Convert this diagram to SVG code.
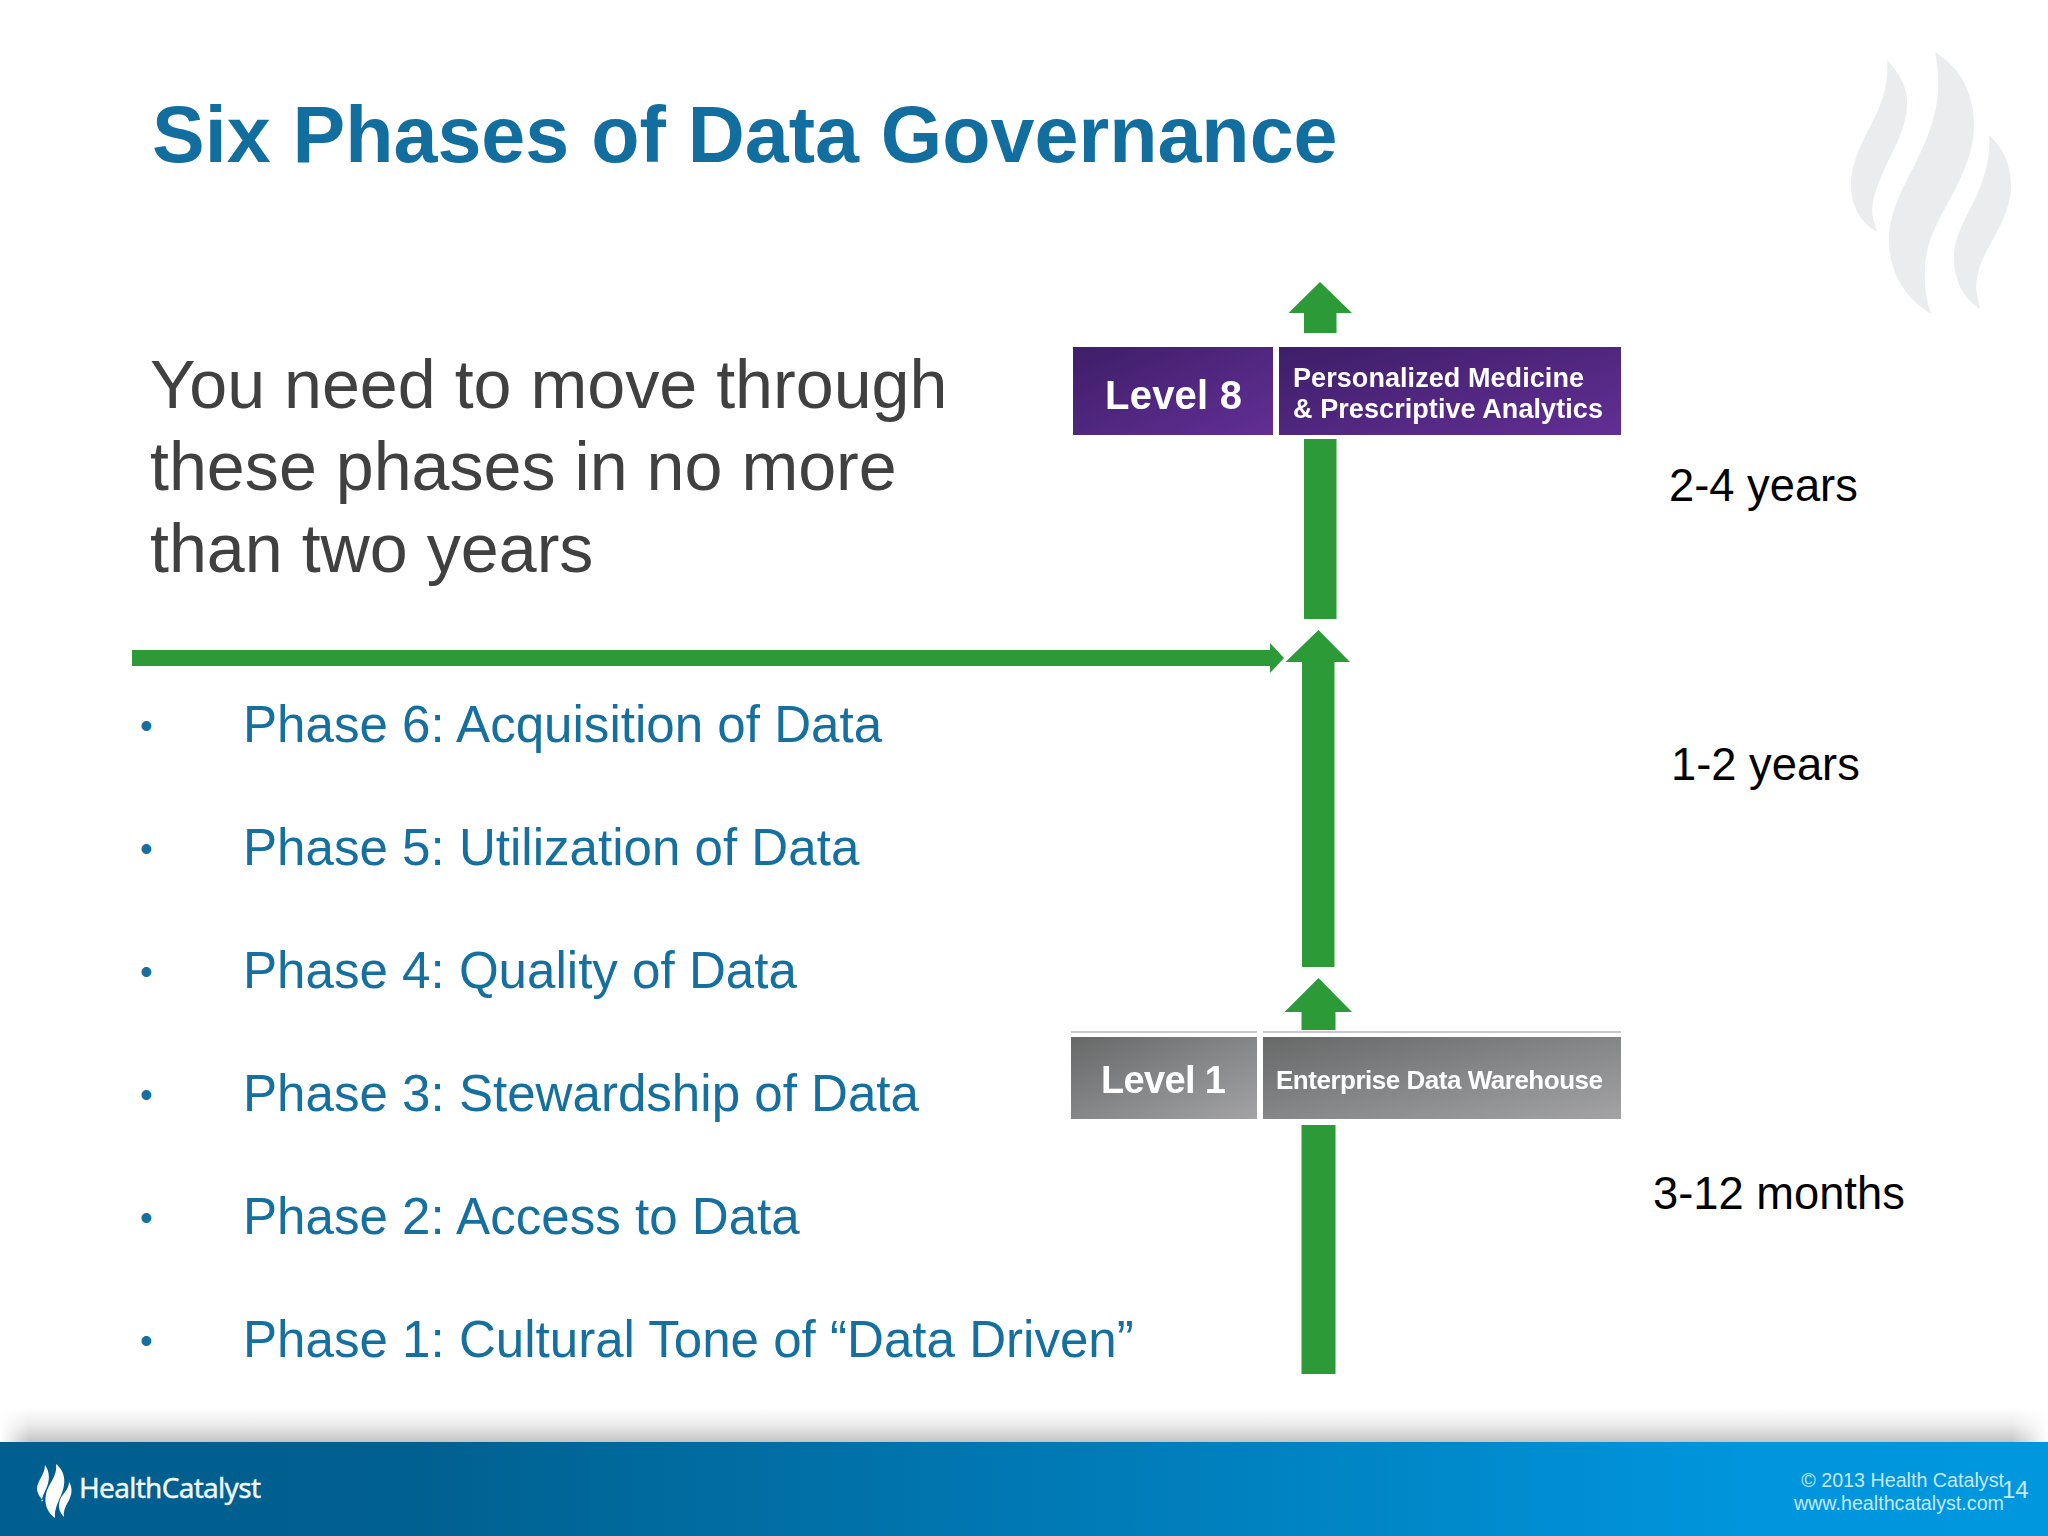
<svg xmlns="http://www.w3.org/2000/svg" width="2048" height="1536" viewBox="0 0 2048 1536">
<defs>
<linearGradient id="footer" x1="0" x2="1" y1="0" y2="0"><stop offset="0" stop-color="#005F8E"/><stop offset="0.2" stop-color="#006090"/><stop offset="0.85" stop-color="#0095DC"/><stop offset="1" stop-color="#0097DF"/></linearGradient>
<linearGradient id="shadow" x1="0" x2="0" y1="0" y2="1"><stop offset="0" stop-color="#c4c4c4" stop-opacity="0"/><stop offset="0.5" stop-color="#c4c4c4" stop-opacity="0.35"/><stop offset="1" stop-color="#c4c4c4"/></linearGradient>
<linearGradient id="fadeL" x1="0" x2="1" y1="0" y2="0"><stop offset="0" stop-color="#fff"/><stop offset="1" stop-color="#fff" stop-opacity="0"/></linearGradient>
<linearGradient id="fadeR" x1="1" x2="0" y1="0" y2="0"><stop offset="0" stop-color="#fff"/><stop offset="1" stop-color="#fff" stop-opacity="0"/></linearGradient>
<linearGradient id="purple" x1="0" x2="1" y1="0" y2="1"><stop offset="0" stop-color="#3E1E69"/><stop offset="1" stop-color="#622F94"/></linearGradient>
<linearGradient id="gray" x1="0" x2="1" y1="0" y2="1"><stop offset="0" stop-color="#676969"/><stop offset="1" stop-color="#A3A3A5"/></linearGradient>
<filter id="soft" x="-5%" y="-20%" width="110%" height="140%"><feGaussianBlur stdDeviation="0.7"/></filter>
</defs>
<style>
text{font-family:"Liberation Sans",Arial,sans-serif}
.phase{font-size:51.1px;fill:#15709F}
.bullet{font-size:36px;fill:#15709F}
.body{font-size:68.2px;fill:#404040}
.time{font-size:45.3px;fill:#000}
.arrow{fill:#2C9A37}
.lvl{font-weight:bold;fill:#fff;filter:url(#soft)}
.foot{font-size:19.7px;fill:#C4E9FB}
.flame{fill:#EAECED}
</style>
<rect width="2048" height="1536" fill="#fff"/>
<g id="watermark">
<path class="flame" d="M1887 60C1900 74 1908 88 1907 105C1906 130 1893 150 1884 170C1876 188 1870 205 1873 218L1877 232C1860 222 1851 205 1851 185C1851 160 1866 135 1876 115C1883 100 1889 80 1887 60Z"/>
<path class="flame" d="M1935 52C1960 68 1974 92 1974 125C1974 150 1964 172 1952 195C1940 218 1927 238 1925 265C1924 285 1926 300 1931 314C1905 298 1889 272 1889 240C1889 210 1905 185 1917 160C1930 133 1945 100 1935 52Z"/>
<path class="flame" d="M1989 135C2003 148 2011 165 2011 185C2011 208 2000 226 1990 245C1980 262 1974 280 1977 295L1980 309C1963 298 1954 280 1954 258C1954 235 1968 215 1977 195C1985 177 1991 155 1989 135Z"/>
</g>
<text id="title" x="152" y="162" font-size="79" font-weight="bold" fill="#126E9E">Six Phases of Data Governance</text>
<g id="intro">
<text class="body" x="150" y="408">You need to move through</text>
<text class="body" x="150" y="490">these phases in no more</text>
<text class="body" x="150" y="572">than two years</text>
</g>
<g id="phases">
<text class="bullet" x="140" y="738">•</text><text class="phase" x="243" y="742">Phase 6: Acquisition of Data</text>
<text class="bullet" x="140" y="861">•</text><text class="phase" x="243" y="865">Phase 5: Utilization of Data</text>
<text class="bullet" x="140" y="984">•</text><text class="phase" x="243" y="988">Phase 4: Quality of Data</text>
<text class="bullet" x="140" y="1107">•</text><text class="phase" x="243" y="1111">Phase 3: Stewardship of Data</text>
<text class="bullet" x="140" y="1230">•</text><text class="phase" x="243" y="1234">Phase 2: Access to Data</text>
<text class="bullet" x="140" y="1353">•</text><text class="phase" x="243" y="1357">Phase 1: Cultural Tone of “Data Driven”</text>
</g>
<g id="connectors">
<path class="arrow" d="M1320 282L1352 313H1336.500V333H1304V313H1288.500Z"/>
<rect class="arrow" x="1304" y="439" width="32.500" height="180"/>
<path class="arrow" d="M132 650H1270V643L1284 658L1270 673V666H132Z"/>
<path class="arrow" d="M1318.500 630L1350 662H1334.500V967H1302V662H1285.500Z"/>
<path class="arrow" d="M1318.500 978L1352 1012H1335.500V1030H1301.500V1012H1284.500Z"/>
<rect class="arrow" x="1301.500" y="1125" width="34" height="249"/>
</g>
<g id="level8">
<rect x="1073" y="347" width="200" height="88" fill="url(#purple)"/>
<text class="lvl" x="1105" y="409" font-size="40" textLength="137">Level 8</text>
</g>
<g id="level8-desc">
<rect x="1279" y="347" width="342" height="88" fill="url(#purple)"/>
<text class="lvl" x="1293" y="387" font-size="27" textLength="291">Personalized Medicine</text>
<text class="lvl" x="1293" y="418" font-size="27" textLength="310">&amp; Prescriptive Analytics</text>
</g>
<g id="level1">
<rect x="1071" y="1031" width="186" height="2" fill="#c9c9c9"/>
<rect x="1071" y="1037" width="186" height="82" fill="url(#gray)"/>
<text class="lvl" x="1101" y="1093" font-size="38" textLength="125">Level 1</text>
</g>
<g id="level1-desc">
<rect x="1263" y="1031" width="358" height="2" fill="#c9c9c9"/>
<rect x="1263" y="1037" width="358" height="82" fill="url(#gray)"/>
<text class="lvl" x="1276" y="1089" font-size="26" textLength="327">Enterprise Data Warehouse</text>
</g>
<g id="durations">
<text class="time" x="1669" y="501">2-4 years</text>
<text class="time" x="1671" y="780">1-2 years</text>
<text class="time" x="1653" y="1209">3-12 months</text>
</g>
<g id="footer-bar">
<rect y="1408" width="2048" height="34" fill="url(#shadow)"/>
<rect width="30" y="1408" height="34" fill="url(#fadeL)"/>
<rect x="2012" width="36" y="1408" height="34" fill="url(#fadeR)"/>
<rect y="1442" width="2048" height="94" fill="url(#footer)"/>
<g fill="#fff">
<path d="M45 1465C50 1472 50 1481 46 1489C42 1497 40 1505 43 1500L44 1501C39 1497 37 1492 37 1488C38 1480 45 1474 45 1465Z"/>
<path d="M56 1464C64 1470 66 1480 63 1490C60 1500 54 1507 55 1518C47 1512 44 1504 46 1494C48 1484 58 1476 56 1464Z"/>
<path d="M69 1482C73 1488 72 1495 68 1502C65 1507 63 1512 64 1517C59 1512 58 1506 60 1500C62 1494 69 1490 69 1482Z"/>
</g>
<text x="79" y="1498" font-size="28" fill="#F2F8FB" stroke="#F2F8FB" stroke-width="0.4" style="font-family:'Noto Sans',sans-serif" textLength="182">HealthCatalyst</text>
<text class="foot" x="2004" y="1487" text-anchor="end">© 2013 Health Catalyst</text>
<text class="foot" x="2004" y="1510" text-anchor="end">www.healthcatalyst.com</text>
<text x="2002" y="1498" font-size="24" fill="#C4E9FB">14</text>
</g>
</svg>
